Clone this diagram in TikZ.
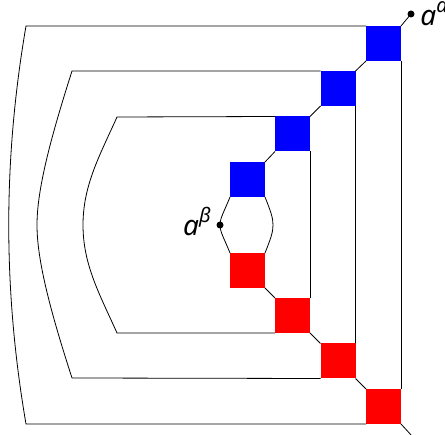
\documentclass[tikz,border=0pt]{standalone}
\usepackage{fontspec}
\newfontfamily\lblfont{Noto Sans}
\newcommand{\supscr}[1]{\raisebox{0.48em}{\fontsize{20}{20}\selectfont #1}}
\begin{document}
\begin{tikzpicture}[x=1pt,y=-1pt,line width=0.8pt,
  sq/.style={minimum size=35pt,inner sep=0pt,outer sep=0pt,draw=none},
  bsq/.style={sq,fill=blue},
  rsq/.style={sq,fill=red},
  dot/.style={circle,fill=black,inner sep=0pt,minimum size=7pt},
  lbl/.style={font=\lblfont\itshape\fontsize{28}{30}\selectfont,inner sep=0pt}]
\useasboundingbox (0,0) rectangle (445,435);
% squares
\node[bsq] (b1) at (383.5,43.5) {};
\node[bsq] (b2) at (338,88.5) {};
\node[bsq] (b3) at (292.5,134) {};
\node[bsq] (b4) at (247.5,179.5) {};
\node[rsq] (r4) at (247.5,270.5) {};
\node[rsq] (r3) at (292.5,315.5) {};
\node[rsq] (r2) at (338,361) {};
\node[rsq] (r1) at (383.5,406.5) {};
% end points
\node[dot] (alpha) at (411,14) {};
\node[dot] (beta) at (220,225) {};
\coordinate (out) at (412,436);
\node[lbl,anchor=base west] (la) at ([xshift=9pt,yshift=-12pt]alpha.center) {a\supscr{α}};
\node[lbl,anchor=base east] (lb) at ([xshift=-9pt,yshift=-11pt]beta.center) {a\supscr{β}};
% diagonal connectors
\draw (alpha.center) -- (b1.north east);
\draw (b1.south west) -- (b2.north east);
\draw (b2.south west) -- (b3.north east);
\draw (b3.south west) -- (b4.north east);
\draw (r4.south east) -- (r3.north west);
\draw (r3.south east) -- (r2.north west);
\draw (r2.south east) -- (r1.north west);
\draw (r1.south east) -- (out);
% outer contour
\draw (b1.north west) -- (26,26) .. controls (3,160) and (3,290) .. (26,424) -- (r1.south west);
\draw (b1.south east) -- (r1.north east);
% second contour
\draw (b2.north west) -- (72,71) .. controls (50,140) and (37,190) .. (37,225)
  .. controls (37,260) and (50,310) .. (72,378) -- (r2.south west);
\draw (b2.south east) -- (r2.north east);
% third contour
\draw (b3.north west) -- (117,117) .. controls (100,155) and (83,185) .. (83,225)
  .. controls (83,265) and (100,295) .. (117,333) -- (r3.south west);
\draw (b3.south east) -- (r3.north east);
% innermost
\draw (b4.south west) .. controls (224,212) and (220,218) .. (beta.center)
  .. controls (220,232) and (224,238) .. (r4.north west);
\draw (b4.south east) .. controls (271,212) and (273,218) .. (273,225)
  .. controls (273,232) and (271,238) .. (r4.north east);
\end{tikzpicture}
\end{document}
